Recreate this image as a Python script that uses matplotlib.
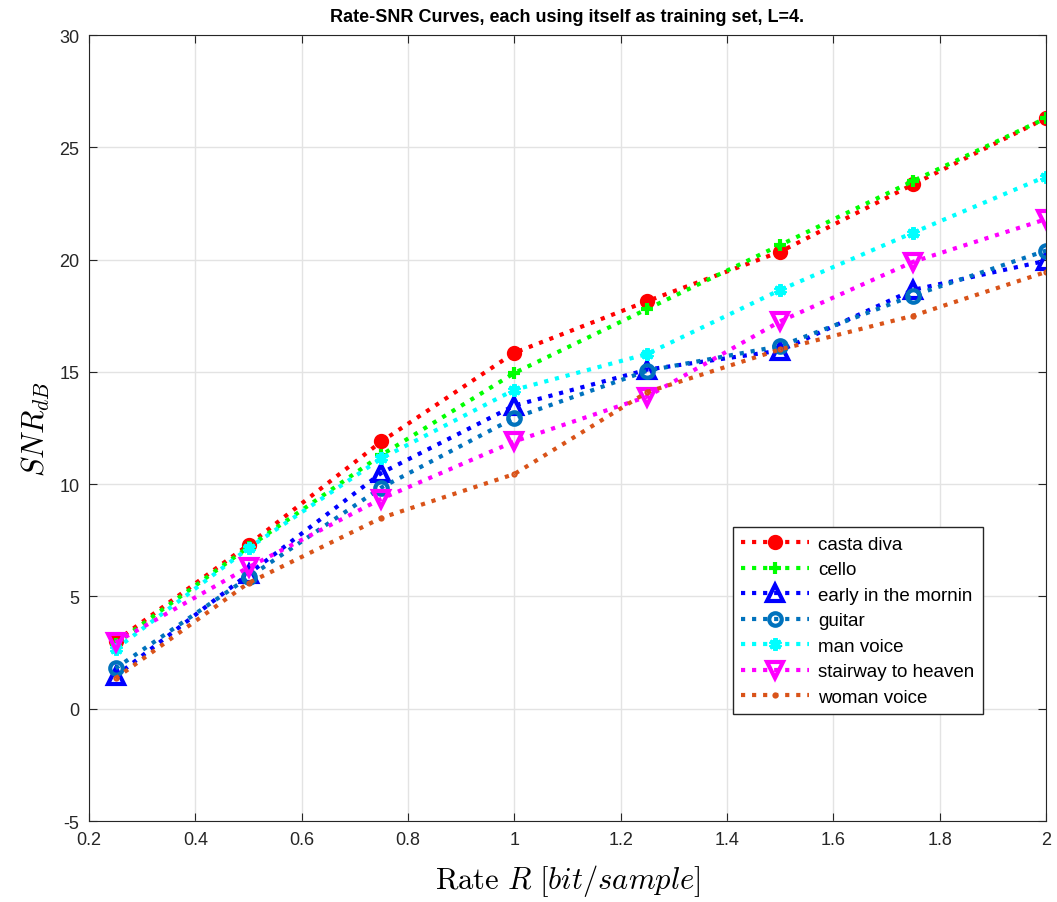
import matplotlib
matplotlib.use("Agg")
import matplotlib.pyplot as plt

plt.rcParams['font.family'] = ['Liberation Sans', 'DejaVu Sans']
plt.rcParams['mathtext.fontset'] = 'cm'
plt.rcParams['axes.unicode_minus'] = False

rate = [0.25, 0.5, 0.75, 1.0, 1.25, 1.5, 1.75, 2.0]

casta_diva = [3.0, 7.3, 11.9, 15.85, 18.15, 20.35, 23.35, 26.3]
cello = [2.9, 7.2, 11.3, 14.95, 17.8, 20.65, 23.5, 26.3]
early = [1.45, 6.0, 10.5, 13.5, 15.1, 15.95, 18.65, 19.95]
guitar = [1.8, 5.85, 9.85, 12.95, 15.05, 16.15, 18.4, 20.4]
man_voice = [2.65, 7.15, 11.15, 14.2, 15.8, 18.65, 21.2, 23.7]
stairway = [2.95, 6.3, 9.35, 11.9, 13.9, 17.25, 19.9, 21.8]
woman_voice = [1.35, 5.6, 8.5, 10.45, 14.1, 16.0, 17.5, 19.45]

series = [
    ('casta diva', casta_diva, '#ff0000', 'o', '#ff0000', 8),
    ('cello', cello, '#00ff00', '+', '#00ff00', 9),
    ('early in the mornin', early, '#0000ff', '^', 'none', 11),
    ('guitar', guitar, '#0072BD', 'o', 'none', 9),
    ('man voice', man_voice, '#00ffff', (6, 2, 0), '#00ffff', 9),
    ('stairway to heaven', stairway, '#ff00ff', 'v', 'none', 11),
    ('woman voice', woman_voice, '#D95319', '.', '#D95319', 3),
]

fig = plt.figure(figsize=(10.57, 9.03), dpi=100)
ax = fig.add_axes([0.0842, 0.0897, 0.9054, 0.8704])

for name, vals, col, mk, fc, ms in series:
    ax.plot(rate, vals, linestyle=':', linewidth=3, color=col, marker=mk,
            markersize=ms, markerfacecolor=fc, markeredgecolor=col,
            markeredgewidth=3, label=name)

ax.set_xlim(0.2, 2)
ax.set_ylim(-5, 30)
ax.set_xticks([0.2, 0.4, 0.6, 0.8, 1, 1.2, 1.4, 1.6, 1.8, 2])
ax.set_xticklabels(['0.2', '0.4', '0.6', '0.8', '1', '1.2', '1.4', '1.6', '1.8', '2'])
ax.set_yticks(range(-5, 31, 5))
ax.grid(True, color='#e3e3e3', linewidth=1)
ax.tick_params(direction='in', top=True, right=True, labelsize=13,
               colors='#262626', length=6, pad=7)
for s in ax.spines.values():
    s.set_color('#262626')

ax.set_title('Rate-SNR Curves, each using itself as training set, L=4.',
             fontsize=13, fontweight='bold', pad=10)
ax.set_xlabel(r'$\mathrm{Rate}\ R\ [bit/sample]$', fontsize=22, labelpad=10)
ax.set_ylabel(r'$SNR_{dB}$', fontsize=22, labelpad=5)

leg = ax.legend(loc='upper left', bbox_to_anchor=(733 / 1057, 1 - 528 / 903),
                bbox_transform=fig.transFigure, borderaxespad=0, fontsize=13.5,
                fancybox=False, framealpha=1, edgecolor='#262626',
                handlelength=3.6, labelspacing=0.45, borderpad=0.45,
                handletextpad=0.5)

fig.savefig('out.png', dpi=100)
